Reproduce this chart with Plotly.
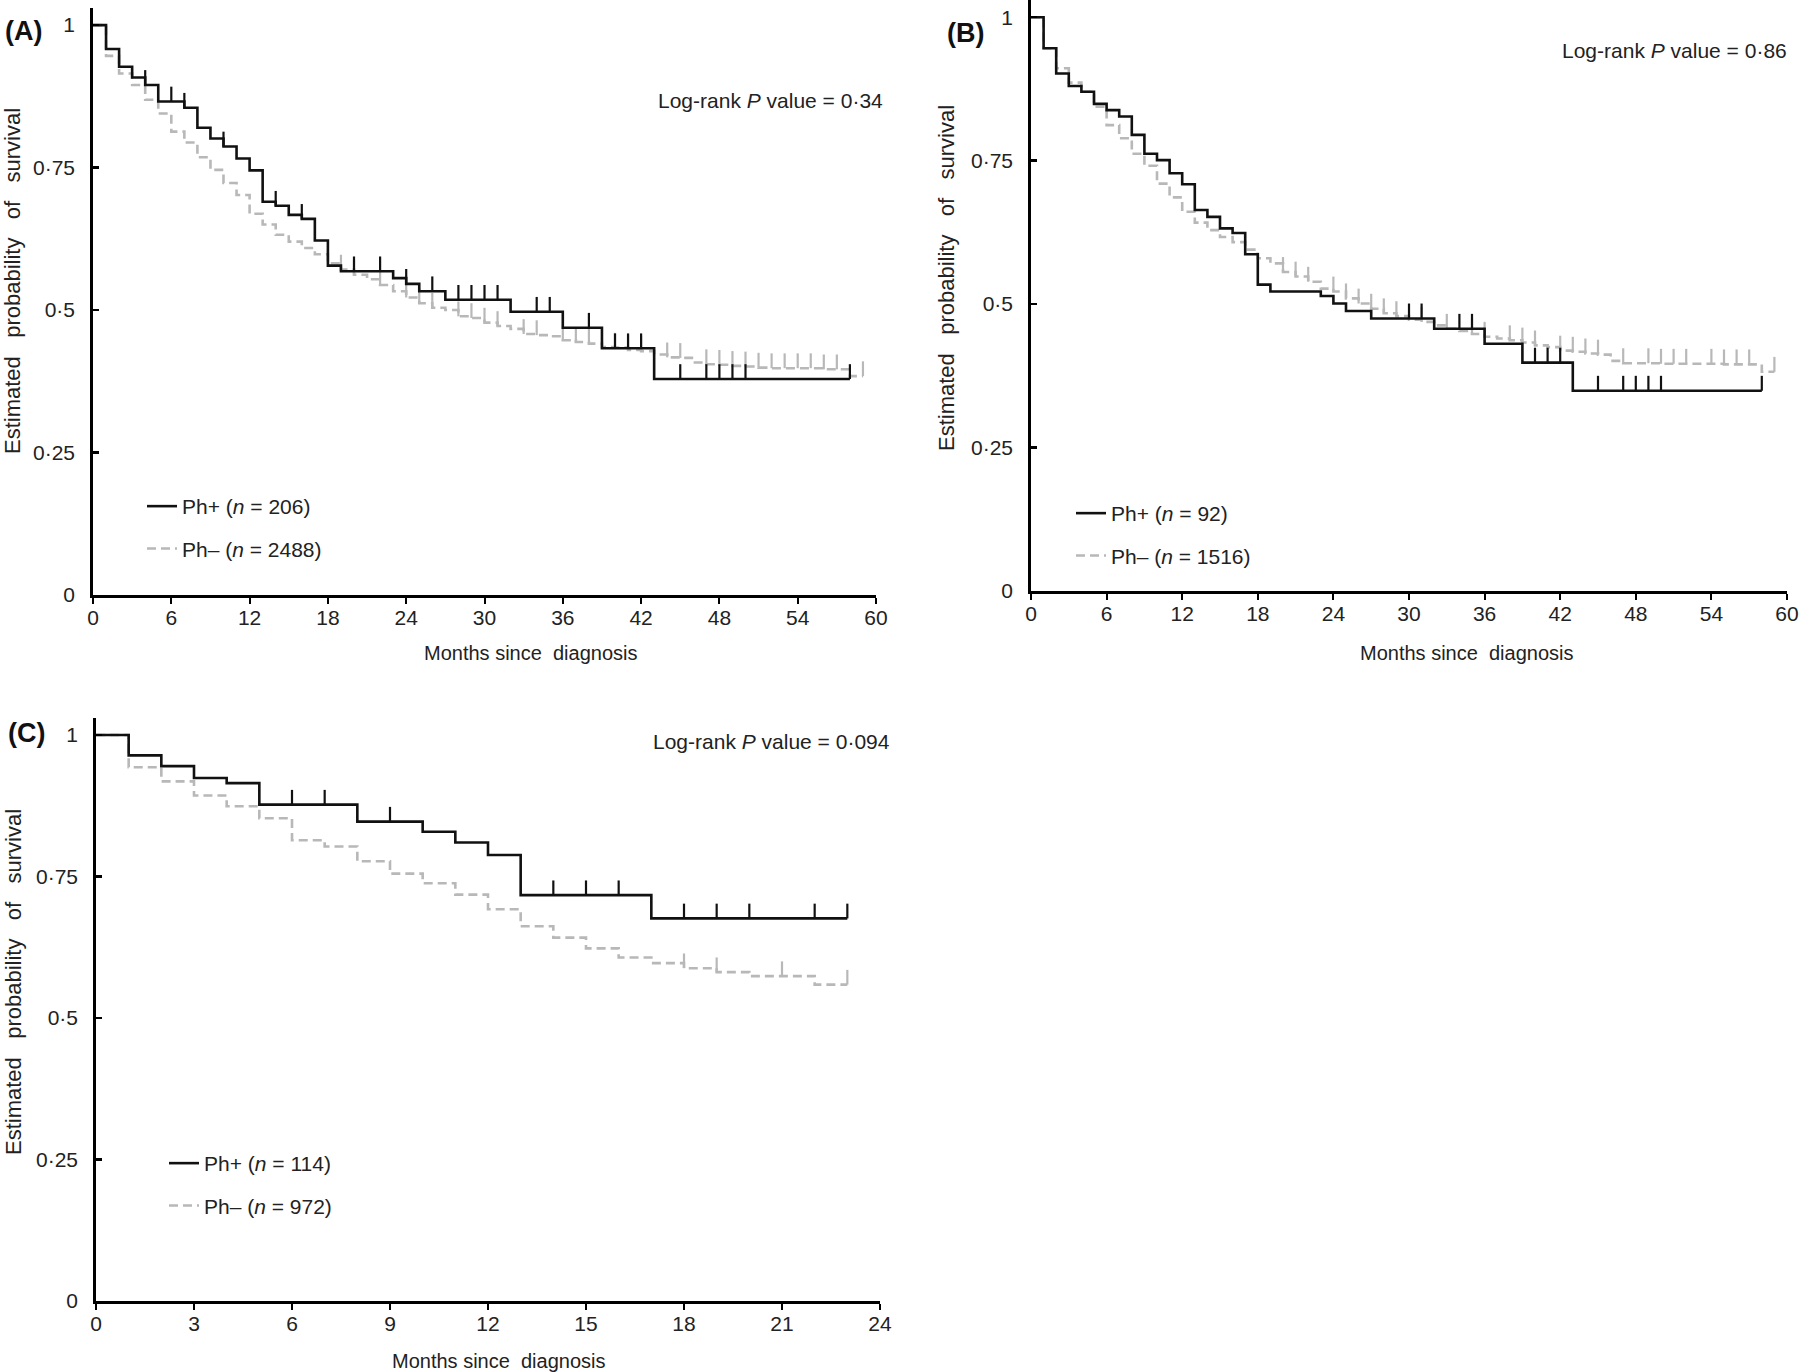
import numpy as np
import plotly.graph_objects as go

# ---------------- data ----------------
# Panel A
A_pos_t = [0, 1, 2, 3, 4, 5, 7, 8, 9, 10, 11, 12, 13, 14, 15, 16, 17, 18, 19, 23, 24, 25, 27, 32, 36, 39, 43, 58]
A_pos_s = [1, 0.958, 0.927, 0.908, 0.895, 0.866, 0.855, 0.82, 0.801, 0.787, 0.766, 0.745, 0.69, 0.683, 0.667,
           0.66, 0.622, 0.578, 0.568, 0.556, 0.546, 0.533, 0.518, 0.497, 0.469, 0.433, 0.379, 0.379]
A_pos_c = [4, 6, 7, 10, 14, 16, 20, 22, 24, 26, 28, 29, 30, 31, 34, 35, 38, 40, 41, 42, 45, 47, 48, 49, 50, 58]

A_neg_t = list(range(0, 60))
A_neg_s = [1, 0.946, 0.915, 0.895, 0.869, 0.845, 0.813, 0.794, 0.768, 0.746, 0.723, 0.702, 0.669, 0.65, 0.632,
           0.62, 0.609, 0.598, 0.582, 0.571, 0.562, 0.554, 0.544, 0.533, 0.522, 0.512, 0.504, 0.5, 0.489, 0.486,
           0.478, 0.472, 0.467, 0.458, 0.456, 0.454, 0.447, 0.444, 0.441, 0.435, 0.434, 0.43, 0.428, 0.422, 0.417,
           0.416, 0.408, 0.405, 0.404, 0.402, 0.401, 0.399, 0.398, 0.398, 0.398, 0.398, 0.396, 0.396, 0.384, 0.384]
A_neg_c = [19, 20, 22, 24, 25, 26, 28, 29, 30, 31, 33, 34, 36, 37, 38, 40, 41, 42, 44, 45, 47, 48, 49, 50, 51,
           52, 53, 54, 55, 56, 57, 59]

# Panel B
B_pos_t = [0, 1, 2, 3, 4, 5, 6, 7, 8, 9, 10, 11, 12, 13, 14, 15, 16, 17, 18, 19, 23, 24, 25, 27, 32, 36, 39, 43, 58]
B_pos_s = [1, 0.946, 0.902, 0.88, 0.87, 0.849, 0.838, 0.827, 0.795, 0.762, 0.751, 0.728, 0.709, 0.664, 0.652,
           0.632, 0.624, 0.587, 0.534, 0.522, 0.514, 0.501, 0.488, 0.475, 0.457, 0.431, 0.398, 0.349, 0.349]
B_pos_c = [30, 31, 34, 35, 40, 41, 42, 45, 47, 48, 49, 50, 58]

B_neg_t = list(range(0, 60))
B_neg_s = [1, 0.946, 0.911, 0.886, 0.87, 0.844, 0.812, 0.789, 0.762, 0.741, 0.71, 0.686, 0.661, 0.642, 0.629,
           0.617, 0.608, 0.595, 0.58, 0.571, 0.556, 0.548, 0.539, 0.527, 0.522, 0.51, 0.501, 0.492, 0.484, 0.479,
           0.473, 0.469, 0.463, 0.457, 0.453, 0.448, 0.443, 0.44, 0.437, 0.433, 0.428, 0.425, 0.419, 0.417, 0.414,
           0.412, 0.401, 0.397, 0.397, 0.397, 0.396, 0.396, 0.396, 0.396, 0.396, 0.395, 0.395, 0.395, 0.382, 0.382]
B_neg_c = [20, 21, 22, 24, 25, 26, 27, 28, 29, 31, 33, 35, 36, 38, 39, 40, 42, 43, 44, 45, 47, 49, 50, 51, 52,
           54, 55, 56, 57, 59]

# Panel C
C_pos_t = [0, 1, 2, 3, 4, 5, 8, 10, 11, 12, 13, 17, 23]
C_pos_s = [1, 0.964, 0.945, 0.924, 0.915, 0.877, 0.847, 0.829, 0.81, 0.788, 0.717, 0.676, 0.676]
C_pos_c = [6, 7, 9, 14, 15, 16, 18, 19, 20, 22, 23]

C_neg_t = list(range(0, 24))
C_neg_s = [1, 0.943, 0.918, 0.893, 0.874, 0.853, 0.814, 0.803, 0.777, 0.755, 0.738, 0.718, 0.692, 0.662, 0.642,
           0.623, 0.607, 0.597, 0.588, 0.581, 0.574, 0.574, 0.559, 0.559]
C_neg_c = [18, 19, 21, 23]

y_tickvals = [0, 0.25, 0.5, 0.75, 1]
y_ticktext = ["0", "0·25", "0·5", "0·75", "1"]
x_ticks_60 = list(range(0, 61, 6))
x_ticks_24 = list(range(0, 25, 3))

panel_labels = ["(A)", "(B)", "(C)"]
pvalues = ["0·34", "0·86", "0·094"]
n_pos = [206, 92, 114]
n_neg = [2488, 1516, 972]

# ---------------- styling ----------------
W, H = 1800, 1372
NARROW = "Liberation Sans Narrow, Arial Narrow, Liberation Sans, Arial, sans-serif"
SANS = "Liberation Sans, Arial, sans-serif"
BLACK = "#111111"
GREY = "#b8b8b8"
TICK_H = 0.026


def fx(p):
    return p / W


def fy(p):
    return 1 - p / H


def censor(t, s, c, h=TICK_H):
    t = np.asarray(t, float)
    xs, ys = [], []
    for ci in c:
        idx = int(np.searchsorted(t, ci, side="right")) - 1
        base = s[idx]
        xs += [ci, ci, None]
        ys += [base, base + h, None]
    return xs, ys


panels = [
    dict(xa="x", ya="y", leg="legend", pos=(A_pos_t, A_pos_s, A_pos_c), neg=(A_neg_t, A_neg_s, A_neg_c),
         xdom=(93, 876), ybot=595, ytop=8, xr=60, xticks=x_ticks_60),
    dict(xa="x2", ya="y2", leg="legend2", pos=(B_pos_t, B_pos_s, B_pos_c), neg=(B_neg_t, B_neg_s, B_neg_c),
         xdom=(1031, 1787), ybot=591, ytop=0, xr=60, xticks=x_ticks_60),
    dict(xa="x3", ya="y3", leg="legend3", pos=(C_pos_t, C_pos_s, C_pos_c), neg=(C_neg_t, C_neg_s, C_neg_c),
         xdom=(96, 880), ybot=1301, ytop=718, xr=24, xticks=x_ticks_24),
]

fig = go.Figure()

for i, p in enumerate(panels):
    pt, ps, pc = p["pos"]
    nt, ns, nc = p["neg"]
    # Ph- (grey dashed) first so that black sits on top
    fig.add_trace(go.Scatter(x=nt, y=ns, mode="lines", line=dict(shape="hv", color=GREY, width=2.6, dash="9px,5px"),
                             xaxis=p["xa"], yaxis=p["ya"], legend=p["leg"], legendgroup=f"neg{i}",
                             legendrank=2, name=f"Ph– (<i>n</i> = {n_neg[i]})", hoverinfo="skip"))
    cx, cy = censor(nt, ns, nc)
    fig.add_trace(go.Scatter(x=cx, y=cy, mode="lines", line=dict(color=GREY, width=2.2),
                             xaxis=p["xa"], yaxis=p["ya"], showlegend=False, hoverinfo="skip"))
    fig.add_trace(go.Scatter(x=pt, y=ps, mode="lines", line=dict(shape="hv", color=BLACK, width=2.6),
                             xaxis=p["xa"], yaxis=p["ya"], legend=p["leg"], legendgroup=f"pos{i}",
                             legendrank=1, name=f"Ph+ (<i>n</i> = {n_pos[i]})", hoverinfo="skip"))
    cx, cy = censor(pt, ps, pc)
    fig.add_trace(go.Scatter(x=cx, y=cy, mode="lines", line=dict(color=BLACK, width=2.2),
                             xaxis=p["xa"], yaxis=p["ya"], showlegend=False, hoverinfo="skip"))

layout = dict(
    width=W, height=H, margin=dict(l=0, r=0, t=0, b=0, autoexpand=False),
    paper_bgcolor="white", plot_bgcolor="white", showlegend=True,
)

axis_common_x = dict(showgrid=False, zeroline=False, showline=True, linecolor="black", linewidth=2.8,
                     ticks="outside", ticklen=6, tickwidth=2, tickcolor="black", automargin=False,
                     ticklabelstandoff=-4,
                     tickfont=dict(family=NARROW, size=21, color="#222"), fixedrange=True)
axis_common_y = dict(showgrid=False, zeroline=False, showline=True, linecolor="black", linewidth=2.8,
                     ticks="inside", ticklen=6, tickwidth=2.5, tickcolor="black", range=[0, 1.03],
                     tickvals=y_tickvals, ticktext=y_ticktext, ticklabelstandoff=11, automargin=False,
                     tickfont=dict(family=NARROW, size=21, color="#222"), fixedrange=True)

legend_pos = [(142, 486), (1071, 493), (164, 1143)]
annotations = []
for i, p in enumerate(panels):
    sx = "" if i == 0 else str(i + 1)
    x0, x1 = p["xdom"]
    layout["xaxis" + sx] = dict(axis_common_x, domain=[fx(x0), fx(x1)], range=[0, p["xr"]],
                                tickvals=p["xticks"], anchor="y" + sx)
    layout["yaxis" + sx] = dict(axis_common_y, domain=[fy(p["ybot"]), fy(p["ytop"])], anchor="x" + sx)
    lx, ly = legend_pos[i]
    layout[p["leg"]] = dict(x=fx(lx), y=fy(ly), xanchor="left", yanchor="top", bgcolor="rgba(0,0,0,0)",
                            font=dict(family=NARROW, size=21, color="#222"), itemwidth=30,
                            tracegroupgap=12, traceorder="grouped", itemclick=False, itemdoubleclick=False)

# panel letters
for (txt, x, y) in zip(panel_labels, [23, 965, 26], [31, 33, 733]):
    annotations.append(dict(text=f"<b>{txt}</b>", x=fx(x), y=fy(y), xref="paper", yref="paper",
                            showarrow=False, xanchor="center", yanchor="middle",
                            font=dict(family=SANS, size=27, color="#111")))
# log-rank texts
for (pv, x, y) in zip(pvalues, [770, 1674, 771], [100, 50, 741]):
    annotations.append(dict(text=f"Log-rank <i>P</i> value = {pv}", x=fx(x), y=fy(y), xref="paper", yref="paper",
                            showarrow=False, xanchor="center", yanchor="middle",
                            font=dict(family=NARROW, size=21, color="#222")))
# axis titles
for (x, y) in [(530, 653), (1466, 653), (499, 1361)]:
    annotations.append(dict(text="Months since\u00a0 diagnosis", x=fx(x), y=fy(y), xref="paper", yref="paper",
                            showarrow=False, xanchor="center", yanchor="middle",
                            font=dict(family=NARROW, size=20, color="#222")))
gap = "\u00a0\u00a0 "
for (x, y) in [(12, 281), (947, 278), (14, 982)]:
    annotations.append(dict(text=f"Estimated{gap}probability{gap}of{gap}survival", x=fx(x), y=fy(y),
                            xref="paper", yref="paper", textangle=-90,
                            showarrow=False, xanchor="center", yanchor="middle",
                            font=dict(family=SANS, size=22, color="#222")))

layout["annotations"] = annotations
fig.update_layout(**layout)
fig.write_html("out.html", config={"displayModeBar": False, "staticPlot": True},
               post_script="document.body.style.margin='0';document.body.style.overflow='hidden';")
